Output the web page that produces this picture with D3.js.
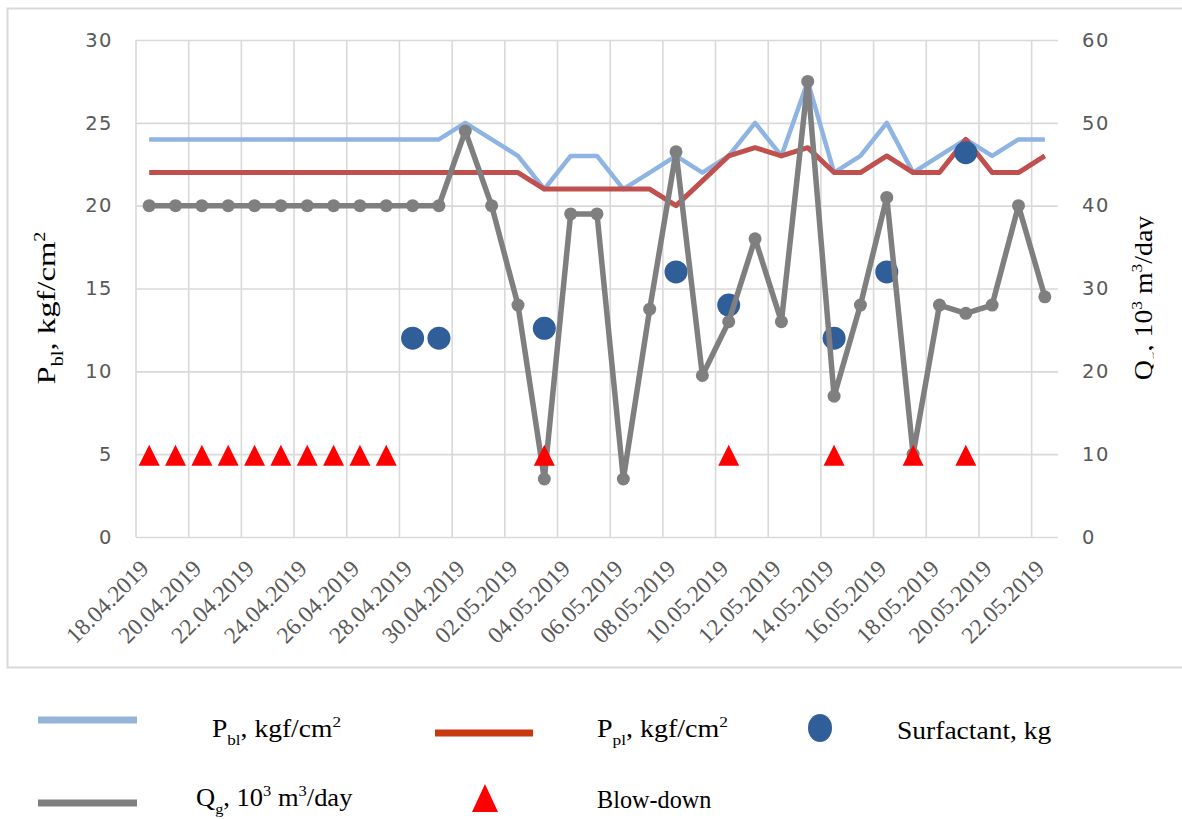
<!DOCTYPE html>
<html><head><meta charset="utf-8">
<script src="https://cdn.jsdelivr.net/npm/d3@7"></script>
<style>body{margin:0;background:#fff}svg{display:block}</style>
</head><body><svg id="c" width="1182" height="819"></svg>
<script>
const dates = ["18.04.2019","19.04.2019","20.04.2019","21.04.2019","22.04.2019","23.04.2019","24.04.2019","25.04.2019","26.04.2019","27.04.2019","28.04.2019","29.04.2019","30.04.2019","01.05.2019","02.05.2019","03.05.2019","04.05.2019","05.05.2019","06.05.2019","07.05.2019","08.05.2019","09.05.2019","10.05.2019","11.05.2019","12.05.2019","13.05.2019","14.05.2019","15.05.2019","16.05.2019","17.05.2019","18.05.2019","19.05.2019","20.05.2019","21.05.2019","22.05.2019"];
const tickLabels = ["18.04.2019","20.04.2019","22.04.2019","24.04.2019","26.04.2019","28.04.2019","30.04.2019","02.05.2019","04.05.2019","06.05.2019","08.05.2019","10.05.2019","12.05.2019","14.05.2019","16.05.2019","18.05.2019","20.05.2019","22.05.2019"];
const leftTicks = [0,5,10,15,20,25,30];
const rightTicks = [0,10,20,30,40,50,60];
const pbl = [24,24,24,24,24,24,24,24,24,24,24,24,25,24,23,21,23,23,21,22,23,22,23,25,23,27.5,22,23,25,22,23,24,23,24,24];
const ppl = [22,22,22,22,22,22,22,22,22,22,22,22,22,22,22,21,21,21,21,21,20,21.5,23,23.5,23,23.5,22,22,23,22,22,24,22,22,23];
const qg  = [40,40,40,40,40,40,40,40,40,40,40,40,49,40,28,7,39,39,7,27.5,46.5,19.5,26,36,26,55,17,28,41,10,28,27,28,40,29];
const surfactant = [null,null,null,null,null,null,null,null,null,null,12,12,null,null,null,12.6,null,null,null,null,16,null,14,null,null,null,12,null,16,null,null,23.2,null,null,null];
const blowdown = [5,5,5,5,5,5,5,5,5,5,null,null,null,null,null,5,null,null,null,null,null,null,5,null,null,null,5,null,null,5,null,5,null,null,null];

const svg = d3.select("#c");
const M = {l:136, r:1058, t:40, b:537};
const x = d3.scaleBand().domain(dates).range([M.l, M.r]);
const bw = x.bandwidth();
const cx = i => x(dates[i]) + bw/2;
const yL = d3.scaleLinear().domain([0,30]).range([M.b, M.t]);
const yR = d3.scaleLinear().domain([0,60]).range([M.b, M.t]);
const GRID = "#d9d9d9", TXT = "#595959";

// outer chart border
svg.append("rect").attr("x",7.5).attr("y",8.5).attr("width",1200).attr("height",659)
  .attr("fill","none").attr("stroke",GRID).attr("stroke-width",2);

// horizontal gridlines + left labels
const gl = svg.append("g").attr("transform",`translate(${M.l},0)`)
  .call(d3.axisLeft(yL).tickValues(leftTicks).tickSize(-(M.r-M.l)).tickPadding(23));
gl.select(".domain").remove();
gl.selectAll("line").attr("stroke",GRID).attr("stroke-width",1.6);
gl.selectAll("text").attr("fill",TXT).style("font-family","DejaVu Sans").style("font-size","19.5px").style("letter-spacing","1.5px");

// right labels
const gr = svg.append("g").attr("transform",`translate(${M.r},0)`)
  .call(d3.axisRight(yR).tickValues(rightTicks).tickSize(0).tickPadding(24));
gr.select(".domain").remove();
gr.selectAll("text").attr("fill",TXT).style("font-family","DejaVu Sans").style("font-size","19.5px").style("letter-spacing","1.5px");

// vertical gridlines at every second category boundary
svg.append("g").selectAll("line").data(tickLabels).join("line")
  .attr("x1",d=>x(d)).attr("x2",d=>x(d)).attr("y1",M.t).attr("y2",M.b)
  .attr("stroke",GRID).attr("stroke-width",1.6);

// x axis labels
const gx = svg.append("g").attr("transform",`translate(0,${M.b})`)
  .call(d3.axisBottom(x).tickValues(tickLabels).tickSize(0));
gx.select(".domain").remove();
gx.selectAll("text").attr("x",0).attr("y",0).attr("dy",0)
  .attr("transform","translate(1,33) rotate(-45)").attr("text-anchor","end")
  .attr("fill",TXT).style("font-family","Liberation Serif").style("font-size","23.5px");

// series
const lineL = d3.line().defined(d=>d!=null).x((d,i)=>cx(i)).y(d=>yL(d));
const lineR = d3.line().defined(d=>d!=null).x((d,i)=>cx(i)).y(d=>yR(d));
svg.append("path").datum(pbl).attr("d",lineL).attr("fill","none")
  .attr("stroke","#8EB4E3").attr("stroke-width",4.5).attr("stroke-linejoin","round");
svg.append("path").datum(ppl).attr("d",lineL).attr("fill","none")
  .attr("stroke","#C0504D").attr("stroke-width",5).attr("stroke-linejoin","round");
svg.append("g").selectAll("circle").data(surfactant.map((v,i)=>({v,i})).filter(d=>d.v!=null)).join("circle")
  .attr("cx",d=>cx(d.i)).attr("cy",d=>yL(d.v)).attr("r",11.5).attr("fill","#2F5E98");
svg.append("path").datum(qg).attr("d",lineR).attr("fill","none")
  .attr("stroke","#7F7F7F").attr("stroke-width",5.5).attr("stroke-linejoin","round");
svg.append("g").selectAll("circle").data(qg.map((v,i)=>({v,i}))).join("circle")
  .attr("cx",d=>cx(d.i)).attr("cy",d=>yR(d.v)).attr("r",6.5).attr("fill","#7F7F7F");
const tri = (w,h) => `M0,${-h/2}L${w/2},${h/2}L${-w/2},${h/2}Z`;
svg.append("g").selectAll("path").data(blowdown.map((v,i)=>({v,i})).filter(d=>d.v!=null)).join("path")
  .attr("d",tri(21,21)).attr("transform",d=>`translate(${cx(d.i)},${yL(d.v)+1})`).attr("fill","#FF0000");

// rich text helper: parts [text, 'n'|'sub'|'sup']
function rich(g, parts, size){
  const t = g.append("text").style("font-family","Liberation Serif").style("font-size",size+"px").attr("fill","#000");
  let shift = 0;
  parts.forEach(([s,k])=>{
    const target = k==="sub" ? size*0.3 : k==="sup" ? -size*0.4 : 0;
    t.append("tspan").attr("dy", target-shift).style("font-size", k==="n" ? size+"px" : (size*0.62)+"px").text(s);
    shift = target;
  });
  return t;
}
function fit(t, target){
  const w = t.node().getBBox().width;
  return target / w;
}

// axis titles
const lt = svg.append("g");
const ltt = rich(lt, [["P","n"],["bl","sub"],[", kgf/cm","n"],["2","sup"]], 26).attr("text-anchor","middle");
const sL = fit(ltt, 153);
lt.attr("transform",`translate(55,308) rotate(-90) scale(${sL},1)`);

svg.append("clipPath").attr("id","rc").append("rect").attr("x",1100).attr("y",0).attr("width",53.5).attr("height",819);
const rtw = svg.append("g").attr("clip-path","url(#rc)");
const rt = rtw.append("g");
const rtt = rich(rt, [["Q","n"],["g","sub"],[", 10","n"],["3","sup"],[" m","n"],["3","sup"],["/day","n"]], 25).attr("text-anchor","middle");
const sR = fit(rtt, 165);
rt.attr("transform",`translate(1152,298) rotate(-90) scale(${sR},1)`);

// legend
const lg = svg.append("g");
lg.append("rect").attr("x",38).attr("y",716.5).attr("width",99).attr("height",7).attr("fill","#95B3D7");
lg.append("rect").attr("x",435).attr("y",729.5).attr("width",98).attr("height",7).attr("fill","#C9390E");
lg.append("ellipse").attr("cx",820).attr("cy",728).attr("rx",12).attr("ry",14).attr("fill","#2F5E98");
lg.append("rect").attr("x",38).attr("y",799.5).attr("width",99).attr("height",7).attr("fill","#7F7F7F");
lg.append("path").attr("d",tri(26,28)).attr("transform","translate(485,798)").attr("fill","#FF0000");

function legText(parts, x0, y0, target){
  const g = lg.append("g");
  const t = rich(g, parts, 25);
  const s = fit(t, target);
  g.attr("transform",`translate(${x0},${y0}) scale(${s},1)`);
}
legText([["P","n"],["bl","sub"],[", kgf/cm","n"],["2","sup"]], 212, 737, 129);
legText([["P","n"],["pl","sub"],[", kgf/cm","n"],["2","sup"]], 597, 737, 131);
legText([["Surfactant, kg","n"]], 897, 739, 155);
legText([["Q","n"],["g","sub"],[", 10","n"],["3","sup"],[" m","n"],["3","sup"],["/day","n"]], 196, 806, 157);
legText([["Blow-down","n"]], 597, 808, 115);
</script></body></html>
